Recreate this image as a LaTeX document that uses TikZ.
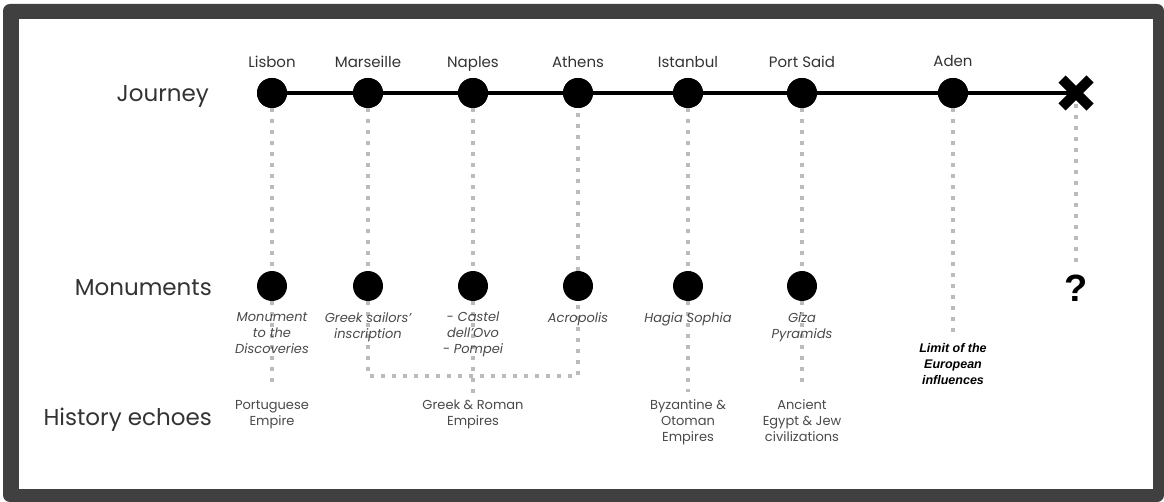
\documentclass[tikz,border=0pt]{standalone}
\usepackage{fontspec}
\setmainfont{Poppins}
\newfontfamily\arialf{Liberation Sans}
\definecolor{framegray}{HTML}{404040}
\definecolor{dotgray}{HTML}{BBBBBB}
\definecolor{txtgray}{HTML}{333333}
\definecolor{ittgray}{HTML}{4A4A4A}
\tikzset{
  dot/.style={circle, fill=black, inner sep=0pt, minimum size=30pt},
  dotline/.style={draw=dotgray, line width=4pt, dash pattern=on 4pt off 7pt},
  journeyline/.style={draw=black, line width=4pt},
  rowlabel/.style={anchor=base east, text=txtgray, font=\fontsize{23}{28}\selectfont, inner sep=0pt},
  city/.style={anchor=base, text=txtgray, font=\fontsize{15}{18}\selectfont, inner sep=0pt},
  monu/.style={anchor=north, align=center, text=ittgray, font=\fontsize{13}{16}\selectfont\itshape, inner sep=0pt},
  hist/.style={anchor=north, align=center, text=ittgray, font=\fontsize{13}{16}\selectfont, inner sep=0pt},
}
\begin{document}
\begin{tikzpicture}[x=1pt, y=-1pt]
\useasboundingbox (0,0) rectangle (1164,502);
\fill[framegray, rounded corners=7pt] (3,4) rectangle (1164,502);
\fill[white] (19,19) rectangle (1153,489);

% row labels
\node[rowlabel] (ljour) at (209,102) {Journey};
\node[rowlabel] (lmon) at (212,296) {Monuments};
\node[rowlabel] (lhist) at (212,425) {History echoes};

% journey circles
\node[dot] (j1) at (272,93) {};
\node[dot] (j2) at (368,93) {};
\node[dot] (j3) at (473,93) {};
\node[dot] (j4) at (578,93) {};
\node[dot] (j5) at (688,93) {};
\node[dot] (j6) at (802,93) {};
\node[dot] (j7) at (953,93) {};
\coordinate (xm) at (1076,93);

% monument circles
\node[dot] (m1) at (272,286) {};
\node[dot] (m2) at (368,286) {};
\node[dot] (m3) at (473,286) {};
\node[dot] (m4) at (578,286) {};
\node[dot] (m5) at (688,286) {};
\node[dot] (m6) at (802,286) {};

% end coordinates
\coordinate (e1) at (272,389);
\coordinate (c2) at (368,376);
\coordinate (c4) at (578,376);
\coordinate (e3) at (473,397);
\coordinate (e5) at (688,392);
\coordinate (e6) at (802,389);
\coordinate (e7) at (953,338);
\coordinate (e8) at (1076,263);

% dotted connectors
\draw[dotline] (j1) -- (m1) -- (e1);
\draw[dotline] (j2) -- (m2) -- (c2) -- (c4) -- (m4) -- (j4);
\draw[dotline] (j3) -- (m3) -- (e3);
\draw[dotline] (j5) -- (m5) -- (e5);
\draw[dotline] (j6) -- (m6) -- (e6);
\draw[dotline] (j7) -- (e7);
\draw[dotline] (xm) -- (e8);

% journey line
\draw[journeyline] (j1) -- (j2) -- (j3) -- (j4) -- (j5) -- (j6) -- (j7) -- (xm);
\draw[line width=10pt, black] (1062,79) -- (1090,107) (1062,107) -- (1090,79);
\fill (j1) circle (15pt) (j2) circle (15pt) (j3) circle (15pt) (j4) circle (15pt)
      (j5) circle (15pt) (j6) circle (15pt) (j7) circle (15pt);

% city labels
\node[city] (t1) at (272,68) {Lisbon};
\node[city] (t2) at (368,68) {Marseille};
\node[city] (t3) at (473,68) {Naples};
\node[city] (t4) at (578,68) {Athens};
\node[city] (t5) at (688,68) {Istanbul};
\node[city] (t6) at (802,68) {Port Said};
\node[city] (t7) at (953,67) {Aden};

% monument texts
\node[monu] (mt1) at (272,312) {Monument\\to the\\Discoveries};
\node[monu] (mt2) at (368,312) {Greek sailors'\\inscription};
\node[monu] (mt3) at (473,312) {- Castel\\dell'Ovo\\- Pompei};
\node[monu] (mt4) at (578,312) {Acropolis};
\node[monu] (mt5) at (688,312) {Hagia Sophia};
\node[monu] (mt6) at (802,312) {Giza\\Pyramids};
\node[anchor=north, align=center, inner sep=0pt, text=black,
      font=\arialf\fontsize{12.5}{16}\selectfont\bfseries\itshape] (mt7) at (953,343)
      {Limit of the\\European\\influences};
\node[anchor=base, inner sep=0pt, font=\arialf\fontsize{38}{40}\selectfont\bfseries] (q) at (1076,302) {?};

% history echoes
\node[hist] (h1) at (272,400) {Portuguese\\Empire};
\node[hist] (h3) at (473,400) {Greek \& Roman\\Empires};
\node[hist] (h5) at (688,399) {Byzantine \&\\Otoman\\Empires};
\node[hist] (h6) at (802,399) {Ancient\\Egypt \& Jew\\civilizations};
\end{tikzpicture}
\end{document}
